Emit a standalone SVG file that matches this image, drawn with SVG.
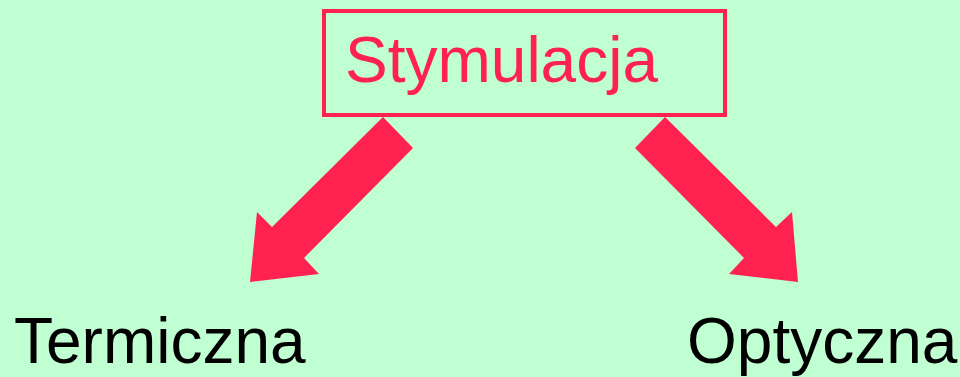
<svg xmlns="http://www.w3.org/2000/svg" width="960" height="377" viewBox="0 0 960 377">
<style>
.arrow{fill:#ff2250;stroke:none}
.lbl{font-family:"Liberation Sans",Arial,sans-serif;font-size:64px;fill:#000}
</style>
<rect x="0" y="0" width="960" height="377" fill="#bfffd1"/>
<g id="stymulacja">
<rect x="324" y="11" width="401" height="104" fill="none" stroke="#ff2250" stroke-width="4"/>
<text x="345" y="82" class="lbl" style="fill:#ff2250">Stymulacja</text>
</g>
<g id="connectors">
<polygon class="arrow" points="383,117 413,148 304,258 319,274 250,282 257,212 272,227"/>
<polygon class="arrow" points="665,117 635,148 744,258 729,274 798,282 792,212 776,227"/>
</g>
<g id="termiczna">
<text x="14" y="363" class="lbl">Termiczna</text>
</g>
<g id="optyczna">
<text x="687" y="363" class="lbl">Optyczna</text>
</g>
</svg>
